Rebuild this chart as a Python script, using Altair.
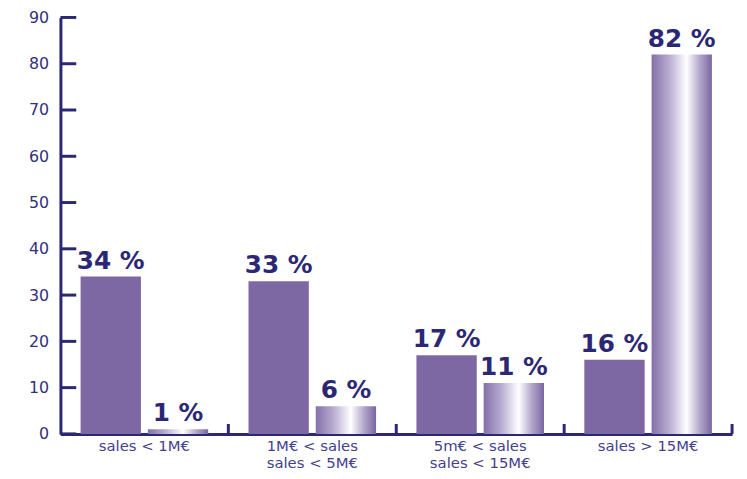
import altair as alt
import pandas as pd

categories = ["sales < 1M€", "1M€ < sales|sales < 5M€", "5m€ < sales|sales < 15M€", "sales > 15M€"]
series_a = [34, 33, 17, 16]
series_b = [1, 6, 11, 82]
y_ticks = [0, 10, 20, 30, 40, 50, 60, 70, 80, 90]

rows = []
for c, a, b in zip(categories, series_a, series_b):
    rows.append({"cat": c, "series": "A", "value": a})
    rows.append({"cat": c, "series": "B", "value": b})
df = pd.DataFrame(rows)

NAVY = "#2c2773"
SOLID = "#7d68a3"

x_enc = alt.X("cat:N", sort=categories, title=None,
              scale=alt.Scale(paddingInner=0, paddingOuter=0),
              axis=alt.Axis(labelExpr="split(datum.label, '|')", labelAngle=0,
                            ticks=False, grid=False, domainWidth=3, domainColor=NAVY,
                            labelColor="#453f8e", labelFont="DejaVu Sans",
                            labelFontSize=15, labelPadding=5, labelLineHeight=17,
                            labelBaseline="top", labelLimit=300))
xoff = alt.XOffset("series:N", scale=alt.Scale(domain=["A", "B"], paddingInner=0.103, paddingOuter=0.3))
y_enc = alt.Y("value:Q", title=None,
              scale=alt.Scale(domain=[0, 90], nice=False),
              axis=alt.Axis(values=y_ticks, ticks=False, grid=False, domainWidth=3,
                            domainColor=NAVY, labelColor="#34307a", labelFont="DejaVu Sans",
                            labelFontSize=16, labelPadding=12))

base = alt.Chart(df)

bars_a = base.transform_filter("datum.series == 'A'").mark_bar(color=SOLID).encode(
    x=x_enc, xOffset=xoff, y=y_enc)

grad = alt.LinearGradient(
    gradient="linear", x1=0, x2=1, y1=0, y2=0,
    stops=[alt.GradientStop(offset=0, color="#8470aa"),
           alt.GradientStop(offset=0.28, color="#b6a9cf"),
           alt.GradientStop(offset=0.58, color="#ffffff"),
           alt.GradientStop(offset=0.8, color="#b3a6cb"),
           alt.GradientStop(offset=1, color="#7a65a0")])
bars_b = base.transform_filter("datum.series == 'B'").mark_bar(color=grad).encode(
    x=x_enc, xOffset=xoff, y=y_enc)

labels = base.transform_calculate(lab="datum.value + ' %'").mark_text(
    font="DejaVu Sans", fontWeight="bold", fontSize=25, color=NAVY,
    baseline="alphabetic", dy=-8).encode(
    x=x_enc, xOffset=xoff, y=y_enc, text="lab:N")

ytick_df = pd.DataFrame({"v": y_ticks})
yticks = alt.Chart(ytick_df).mark_rule(color=NAVY, strokeWidth=3).encode(
    y=alt.Y("v:Q", title=None), x=alt.value(0), x2=alt.value(16))

xtick_df = pd.DataFrame({"cat": categories})
xticks = alt.Chart(xtick_df).mark_rule(color=NAVY, strokeWidth=3).encode(
    x=alt.X("cat:N", sort=categories, bandPosition=1, title=None),
    y=alt.value(421), y2=alt.value(411))

chart = alt.layer(bars_a, bars_b, labels, yticks, xticks).properties(
    width=679, height=421,
    background="white",
    autosize=alt.AutoSizeParams(type="none"),
    padding={"left": 53, "top": 7, "right": 7, "bottom": 40},
).configure_view(strokeWidth=0, stroke="transparent").configure_axis(grid=False)

chart.save("out.html", embed_options={"renderer": "svg", "actions": False})
